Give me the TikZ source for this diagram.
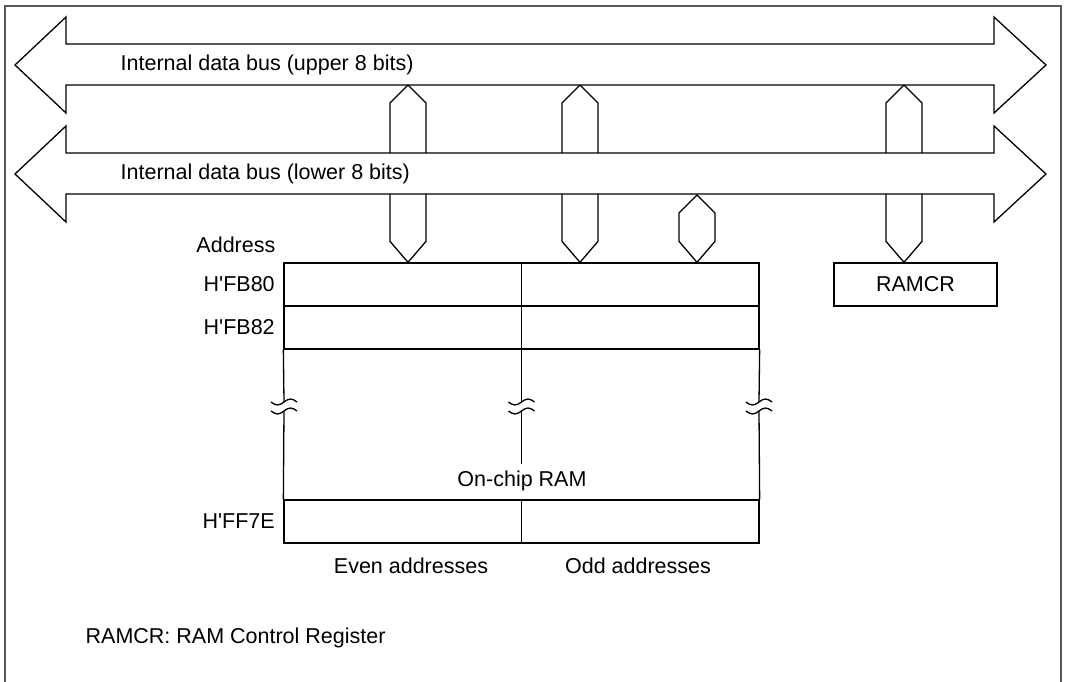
\documentclass[tikz,border=0pt]{standalone}
\usepackage{fontspec}
\setmainfont{Liberation Sans}
\usetikzlibrary{calc, positioning}

\tikzset{
  bus/.style={draw, fill=white, line join=miter},
  row/.style={draw, minimum width=475pt, minimum height=43pt, inner sep=0pt},
  lbl/.style={inner sep=0pt},
}

% double-headed bus arrow, #1 = centre line
\newcommand{\busarrow}[1]{%
  \draw[bus] (15,#1) -- (66,#1-48) -- (66,#1-21) -- (994,#1-21) -- (994,#1-48)
    -- (1046,#1) -- (994,#1+48) -- (994,#1+20) -- (66,#1+20) -- (66,#1+48) -- cycle;}

% bidirectional link from #1 (top tip) to #2 (bottom tip)
\newcommand{\buslink}[2]{%
  \draw[bus] let \p1=(#1), \p2=(#2) in
    (\p1) -- (\x1-18pt,\y1-18pt) -- (\x1-18pt,\y2+21pt) -- (\p2)
    -- (\x1+18pt,\y2+21pt) -- (\x1+18pt,\y1-18pt) -- cycle;}

% break mark on a vertical line
\newcommand{\brk}[2]{%
  \draw (#1-13,#2) sin (#1-6.5,#2+3) cos (#1,#2) sin (#1+6.5,#2-3) cos (#1+13,#2);}

\begin{document}
\begin{tikzpicture}[x=1pt, y=-1pt, line width=1.3pt,
  font=\fontsize{21.5}{26}\selectfont]
  \useasboundingbox (0,0) rectangle (1065,682);
  \draw[black!65, line width=1.5pt] (5,684) -- (5,6) -- (1061,6) -- (1061,684);

  % RAM rows
  \node[row] (row0) at (521.5,284.5) {};
  \node[row] (row1) at (521.5,327.5) {};
  \node[row] (rowN) at (521.5,521.5) {};
  \draw (row0.north) -- (row1.south) (rowN.north) -- (rowN.south);
  \node[draw, minimum width=163pt, minimum height=43pt, inner sep=0pt]
    (ramcr) at (915.5,284.5) {RAMCR};

  \coordinate (d1) at (408,85);
  \coordinate (d2) at (580,85);
  \coordinate (d3) at (697,195);
  \coordinate (d4) at (904,85);

  \buslink{d1}{d1 |- row0.north}
  \buslink{d2}{d2 |- row0.north}
  \buslink{d3}{d3 |- row0.north}
  \buslink{d4}{d4 |- ramcr.north}

  \busarrow{65}
  \busarrow{174}
  \node[lbl, anchor=west] (upper) at (120,65) {Internal data bus (upper 8 bits)};
  \node[lbl, anchor=west] (lower) at (120,174) {Internal data bus (lower 8 bits)};

  % broken part of the array
  \draw (row1.south west) -- (284,402) (284,411) -- (rowN.north west);
  \draw (row1.south east) -- (759,402) (759,411) -- (rowN.north east);
  \draw (row1.south) -- (521.5,402) (521.5,411) -- (521.5,464);
  \foreach \xb in {284,521.5,759} {
    \foreach \yb in {402,411} { \brk{\xb}{\yb} }
  }

  \node[lbl, anchor=east] (addr) at (276,245) {Address};
  \node[lbl, left=8pt of row0] {H\textquotesingle FB80};
  \node[lbl, left=8pt of row1] {H\textquotesingle FB82};
  \node[lbl, left=8pt of rowN] {H\textquotesingle FF7E};
  \node[lbl] (ram) at (522,481) {On-chip RAM};
  \node[lbl] at (411,566) {Even addresses};
  \node[lbl] at (638,566) {Odd addresses};
  \node[lbl, anchor=west] at (85,638) {RAMCR: RAM Control Register};
\end{tikzpicture}
\end{document}
